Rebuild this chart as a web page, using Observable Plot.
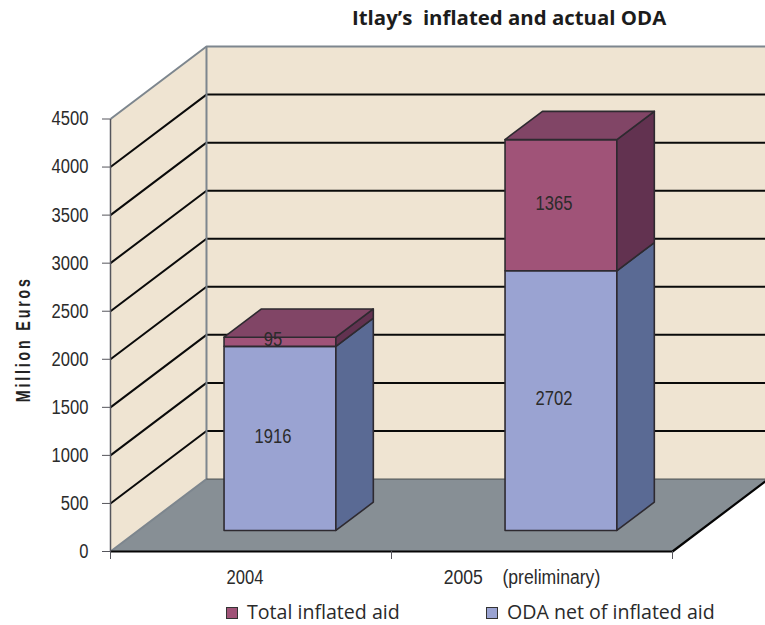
<!DOCTYPE html>
<html><head><meta charset="utf-8">
<script src="https://cdn.jsdelivr.net/npm/d3@7"></script>
<script src="https://cdn.jsdelivr.net/npm/@observablehq/plot@0.6"></script>
<style>
html,body{margin:0;padding:0;background:#fff;width:765px;height:625px;overflow:hidden}
#title{height:30px;position:relative;font:bold 20.4px/26px "Open Sans",sans-serif;color:#1c1c1c}
#title span{position:absolute;left:352px;top:4px;white-space:pre}
#legend{position:relative;height:25px;font:19.6px/20px "Open Sans",sans-serif;color:#2a2a2a}
#legend i{position:absolute;top:7px;width:10px;height:10px;border:1.5px solid #333}
#legend span{position:absolute;top:1.8px;white-space:pre}
</style></head><body>
<div id="title"></div><div id="chart"></div><div id="legend"></div>
<script>
const titleText = "Itlay’s  inflated and actual ODA";
const categories = ["2004", "2005\u00a0\u00a0\u00a0\u00a0(preliminary)"];
const odaNet = [1916, 2702];
const inflatedAid = [95, 1365];
const yTicks = [0,500,1000,1500,2000,2500,3000,3500,4000,4500];
const seriesNames = ["Total inflated aid", "ODA net of inflated aid"];
const yLabel = "Million Euros";

const colors = {wall:"#efe4d2", floor:"#878f95", edge:"#7d868e",
  odaFront:"#9aa3d2", odaSide:"#5a6a94",
  inflFront:"#a05378", inflSide:"#623250", inflTop:"#814566", barStroke:"#2e2a30"};
const fontFamily = "'Liberation Sans',sans-serif";

// oblique projection: depth 0 = front plane, depth 1 = back wall
const DX = 0.3416, DY = 754;
const P = (c, v, d) => ({x: c + d*DX, y: v + d*DY});
const poly = (pts, fill, stroke, sw) => Plot.line(pts.map(p => P(...p)), {x:"x", y:"y", fill, stroke: stroke||"none", strokeWidth: sw||0, curve:"linear-closed"});
const path = (pts, stroke, sw) => Plot.line(pts.map(p => P(...p)), {x:"x", y:"y", stroke, strokeWidth: sw, strokeLinecap:"butt", strokeLinejoin:"miter"});

const maxV = yTicks[yTicks.length-1];
const marks = [
  poly([[0,0,0],[0,maxV,0],[0,maxV,1],[0,0,1]], colors.wall),
  poly([[0,0,1],[0,maxV,1],[2,maxV,1],[2,0,1]], colors.wall),
  poly([[0,0,0],[0,0,1],[2,0,1],[2,0,0]], colors.floor),
];
for (const v of yTicks.slice(1,-1)) marks.push(path([[0,v,0],[0,v,1],[2,v,1]], "#0a0a0a", 2));
marks.push(path([[0,maxV,0],[0,maxV,1],[2,maxV,1]], colors.edge, 2));
marks.push(path([[0,maxV,1],[0,0,1],[0,0,0]], colors.edge, 2));
marks.push(path([[0,0,1],[2,0,1]], "#4a4d50", 1));
marks.push(path([[0,0,0],[2,0,0],[2,0,1]], "#050505", 2.2));
marks.push(path([[0,0,0],[0,maxV,0]], "#55555c", 1.5));

// bars
const b0 = 0.305, b1 = 0.703, d0 = 0.29, d1 = 0.68;
categories.forEach((cat, i) => {
  const L = i + b0, R = i + b1, a = odaNet[i], tt = a + inflatedAid[i];
  const st = colors.barStroke, w = 1.6;
  marks.push(poly([[L,0,d0],[R,0,d0],[R,a,d0],[L,a,d0]], colors.odaFront, st, w));
  marks.push(poly([[R,0,d0],[R,0,d1],[R,a,d1],[R,a,d0]], colors.odaSide, st, w));
  marks.push(poly([[L,a,d0],[R,a,d0],[R,tt,d0],[L,tt,d0]], colors.inflFront, st, w));
  marks.push(poly([[R,a,d0],[R,a,d1],[R,tt,d1],[R,tt,d0]], colors.inflSide, st, w));
  marks.push(poly([[L,tt,d0],[R,tt,d0],[R,tt,d1],[L,tt,d1]], colors.inflTop, st, w));
  const cx = (L+R)/2;
  const lab = (v, val) => Plot.text([P(cx, v, d0)], {x:"x", y:"y", text:()=>String(val), dx:-7, dy:-2,
    fontSize:20, fontFamily, fill:"#2b2b2b"});
  marks.push(lab(a/2, odaNet[i]));
  marks.push(lab(a + inflatedAid[i]/2, inflatedAid[i]));
  marks.push(Plot.text([{x:i+0.5}], {x:"x", frameAnchor:"bottom", text:()=>cat, dx:i? -10:-6, dy:32,
    fontSize:20, fontFamily, fill:"#2b2b2b"}));
});

marks.push(Plot.axisY({ticks:yTicks, tickSize:8, tickPadding:14, tickFormat:"d", stroke:"#55555c", fontSize:20,
  fontFamily, color:"#2b2b2b", label:null}));
marks.push(Plot.axisX({ticks:[0,1,2], tickSize:8, tickFormat:()=>"", stroke:"#55555c", label:null}));
marks.push(Plot.text([{y:maxV/2}], {y:"y", frameAnchor:"left", textAnchor:"middle", rotate:-90, text:()=>yLabel, dx:-87, dy:4,
  fontSize:20, fontWeight:"bold", fontFamily, fill:"#222"}));

const chartSvg = Plot.plot({
  width:765, height:570, marginLeft:110, marginRight:93, marginTop:88.5, marginBottom:49,
  style:{background:"transparent", fontSize:"16px", overflow:"hidden"},
  x:{domain:[0,2]}, y:{domain:[0,maxV]}, marks
});
document.getElementById("chart").append(chartSvg);
// the reference's labels are set in a condensed face: squeeze the real text to match
chartSvg.querySelectorAll("text").forEach(t => {
  const s = t.textContent;
  if (!s) return;
  let r = 0.83;
  if (s === yLabel) { t.style.letterSpacing = "4px"; r = 126 / t.getComputedTextLength(); }
  else if (s.includes("preliminary")) r = 0.88;
  t.setAttribute("textLength", (t.getComputedTextLength()*r).toFixed(1));
  t.setAttribute("lengthAdjust", "spacingAndGlyphs");
});

const ts = document.createElement("span"); ts.textContent = titleText;
document.getElementById("title").append(ts);
const lg = document.getElementById("legend");
[[226,247,colors.inflFront],[486,507,colors.odaFront]].forEach(([sx,tx,c],i)=>{
  const sw=document.createElement("i"); sw.style.left=sx+"px"; sw.style.background=c; lg.append(sw);
  const s=document.createElement("span"); s.style.left=tx+"px"; s.textContent=seriesNames[i]; lg.append(s);
});
</script></body></html>
